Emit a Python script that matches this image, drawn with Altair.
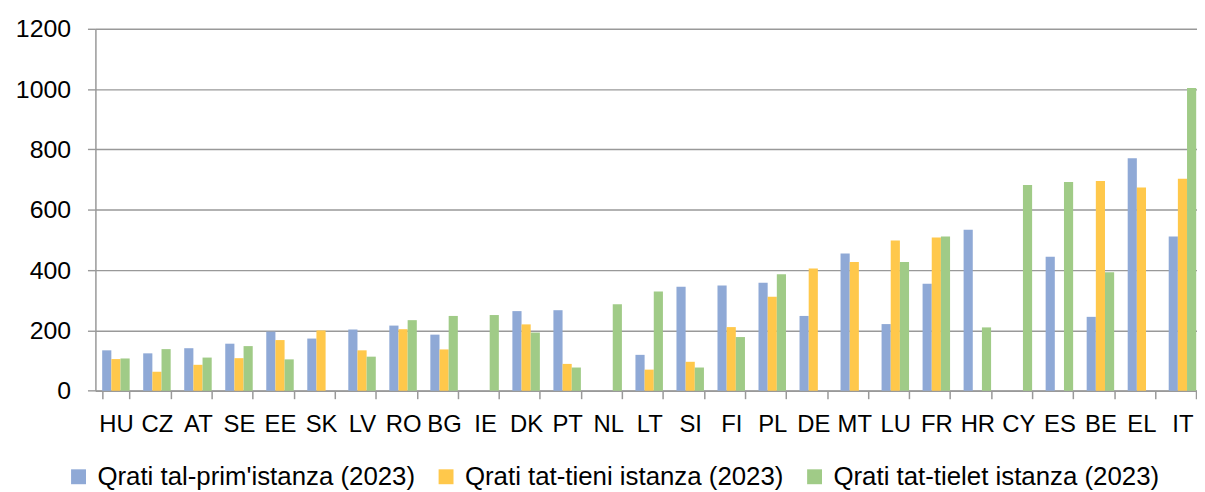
import altair as alt
import pandas as pd

countries = ["HU", "CZ", "AT", "SE", "EE", "SK", "LV", "RO", "BG", "IE", "DK", "PT", "NL", "LT",
             "SI", "FI", "PL", "DE", "MT", "LU", "FR", "HR", "CY", "ES", "BE", "EL", "IT"]
first_instance = [134, 124, 141, 156, 196, 173, 203, 216, 186, None, 264, 267, None, 119,
                  345, 349, 358, 248, 455, 221, 355, 534, None, 444, 245, 771, 511]
second_instance = [105, 63, 86, 108, 168, 200, 134, 204, 137, None, 220, 89, None, 70,
                   96, 211, 312, 405, 427, 498, 508, None, None, None, 695, 674, 703]
third_instance = [107, 138, 110, 148, 104, None, 113, 234, 248, 251, 193, 77, 287, 329,
                  77, 178, 386, None, None, 427, 511, 210, 682, 692, 393, None, 1004]

series_names = ["Qrati tal-prim'istanza (2023)",
                "Qrati tat-tieni istanza (2023)",
                "Qrati tat-tielet istanza (2023)"]
series_colors = ["#8FA9D6", "#FFC84B", "#A0CB87"]
y_ticks = [0, 200, 400, 600, 800, 1000, 1200]

rows = []
for i, c in enumerate(countries):
    for name, vals in zip(series_names, [first_instance, second_instance, third_instance]):
        v = vals[i]
        if v is not None:
            rows.append({"country": c, "series": name, "value": v})
df = pd.DataFrame(rows)

FONT = "Liberation Sans"
GRAY = "#999999"

chart = alt.Chart(df).mark_bar().encode(
    x=alt.X("country:N", sort=countries,
            scale=alt.Scale(paddingInner=0.33, paddingOuter=0.165, range=[0, 1115]),
            axis=alt.Axis(title=None, labelAngle=0, tickBand="extent", tickSize=8,
                          labelPadding=14, grid=False, domainColor=GRAY, domainWidth=1.5,
                          tickColor=GRAY, tickWidth=1.5, labelFont=FONT, labelFontSize=24,
                          labelColor="#000000")),
    xOffset=alt.XOffset("series:N", sort=series_names,
                        scale=alt.Scale(paddingInner=0, paddingOuter=0)),
    y=alt.Y("value:Q", scale=alt.Scale(domain=[0, 1200], nice=False),
            axis=alt.Axis(title=None, values=y_ticks, format="d", tickSize=8, labelPadding=17,
                          grid=True, gridColor=GRAY, gridWidth=1.4,
                          domainColor=GRAY, domainWidth=1.5, tickColor=GRAY, tickWidth=1.4,
                          labelFont=FONT, labelFontSize=25, labelColor="#000000")),
    color=alt.Color("series:N", sort=series_names,
                    scale=alt.Scale(domain=series_names, range=series_colors),
                    legend=alt.Legend(title=None, orient="none", direction="horizontal",
                                      legendX=-30, legendY=438, symbolType="square",
                                      symbolSize=225, symbolStrokeWidth=0, labelOffset=6,
                                      columnPadding=18, labelFont=FONT, labelFontSize=26,
                                      labelColor="#000000", padding=0, labelLimit=600)),
).properties(
    width=1109,
    height=364.4,
    padding={"left": 88, "top": 19.3, "right": 0, "bottom": 100},
    autosize=alt.AutoSizeParams(type="none"),
).configure_view(stroke=None)

chart.save("out.html", embed_options={"renderer": "svg", "actions": False})
